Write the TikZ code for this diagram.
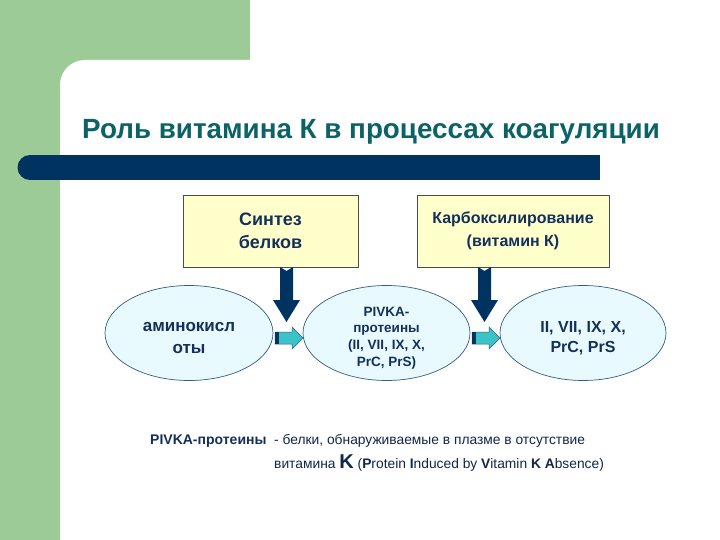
\documentclass[tikz,border=0pt]{standalone}
\usepackage{fontspec}
\setmainfont{Liberation Sans}
\usetikzlibrary{arrows.meta,shapes.geometric}
\definecolor{grn}{HTML}{9DCB98}
\definecolor{navy}{HTML}{00335F}
\definecolor{titlec}{HTML}{0B6367}
\definecolor{txt}{HTML}{14305A}
\definecolor{ylw}{HTML}{FFFFCC}
\definecolor{ell}{HTML}{E8FAFE}
\definecolor{cyanarr}{HTML}{3CC3C8}
\begin{document}
\begin{tikzpicture}[x=1pt,y=-1pt,
  ybox/.style={draw=black!70,line width=0.6pt,fill=ylw,minimum width=175pt,minimum height=72pt,text=txt,align=center},
  ellip/.style={draw=navy!80,line width=0.7pt,fill=ell,ellipse,minimum width=167pt,minimum height=95pt,inner sep=0},
  etext/.style={text=txt,align=center,inner sep=0},
]
\useasboundingbox (0,0) rectangle (720,540);
\fill[grn] (0,0) rectangle (250,540);
\fill[white,rounded corners=25pt] (60,60) rectangle (760,580);
\node[anchor=base west,text=titlec,font=\bfseries\fontsize{27.8}{32}\selectfont,inner sep=0] (title) at (82,139) {Роль витамина К в процессах коагуляции};
\fill[navy] (30,155) rectangle (600,180);
\fill[navy] (30,167.5) circle[radius=12.5];
\node[ybox,font=\bfseries\fontsize{18}{23}\selectfont] (b1) at (270.5,231) {Синтез\\белков};
\node[ybox,minimum width=192pt,font=\bfseries\fontsize{16}{23}\selectfont] (b2) at (513,231) {Карбоксилирование\\(витамин К)};
\node[ellip,minimum width=168pt] (e1) at (189,333) {};
\node[ellip] (e2) at (386.5,333) {};
\node[ellip,minimum width=166pt] (e3) at (583,333) {};
\node[etext,font=\bfseries\fontsize{17}{22}\selectfont] (t1) at (189,338) {аминокисл\\оты};
\node[etext,font=\bfseries\fontsize{13.5}{16.7}\selectfont] (t2) at (386.5,338) {PIVKA-\\протеины\\(II, VII, IX, X,\\PrC, PrS)};
\node[etext,font=\bfseries\fontsize{16}{20.5}\selectfont] (t3) at (583,338) {II, VII, IX, X,\\PrC, PrS};
% down arrows
\foreach \cx in {286.5,484.5}{
  \fill[navy] (\cx-6.5,267) -- (\cx,271) -- (\cx+6.5,267) -- (\cx+6.5,300) -- (\cx+13.5,300) -- (\cx,322) -- (\cx-13.5,300) -- (\cx-6.5,300) -- cycle;
}
% right arrows
\foreach \sx in {275,472}{
  \fill[cyanarr,draw=navy!80,line width=0.5pt] (\sx,332) -- (\sx+17,332) -- (\sx+17,327) -- (\sx+28,338) -- (\sx+17,349) -- (\sx+17,344) -- (\sx,344) -- cycle;
  \fill[navy] (\sx,332) rectangle (\sx+4,344);
}
\node[anchor=base west,inner sep=0,text=txt,font=\bfseries\fontsize{14}{15}\selectfont] (def) at (150,444) {PIVKA-протеины};
\node[anchor=base west,inner sep=0,text=txt!80!black,font=\fontsize{13.8}{15}\selectfont] (d1) at (274,444) {- белки, обнаруживаемые в плазме в отсутствие};
\node[anchor=base west,inner sep=0,text=txt!80!black,font=\fontsize{13.8}{15}\selectfont] (d2) at (274,468) {витамина {\bfseries\fontsize{20}{15}\selectfont K} (\textbf{P}rotein \textbf{I}nduced by \textbf{V}itamin \textbf{K} \textbf{A}bsence)};
\end{tikzpicture}
\end{document}
